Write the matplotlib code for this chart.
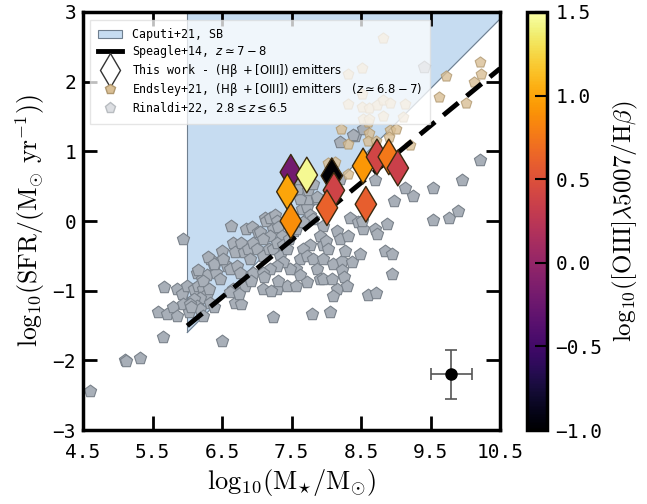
import numpy as np
import matplotlib
matplotlib.use("Agg")
import matplotlib.pyplot as plt
from matplotlib.patches import Patch
from matplotlib.lines import Line2D

# ---------------- data ----------------
rinaldi_mass = [4.60, 5.10, 5.12, 5.32, 5.67, 5.94, 5.58, 5.71, 5.80, 5.85, 5.85, 5.92, 5.94, 6.00, 6.03,
                6.50, 5.65, 6.63,
                6.14, 6.21, 6.28, 6.33, 6.38, 6.42, 6.47, 6.52, 6.50, 6.57, 6.62, 6.66, 6.69, 6.71, 6.76,
                6.78, 6.81, 6.85, 6.88, 6.90, 6.93, 6.95, 7.00, 7.02, 6.09, 6.16, 6.23, 6.28, 6.18, 6.09,
                6.14, 6.04, 6.18, 6.23, 6.33, 6.38, 6.66, 6.73, 6.69, 6.78, 6.83, 6.90, 6.95,
                6.15, 6.23, 6.30, 6.39, 6.51, 6.32, 6.06, 6.61, 6.75, 6.92,
                7.05, 7.12, 7.14, 7.19, 7.26, 7.29, 7.24, 7.19, 7.31, 7.36, 7.09, 7.09, 7.17, 7.24, 7.29,
                7.38, 7.33, 7.43, 7.47, 7.53, 7.57, 7.48, 7.65, 7.72, 7.77, 7.81, 7.67, 7.53, 7.69, 7.74,
                7.62, 7.60, 7.86, 7.96, 7.91, 7.96, 8.00, 8.03, 7.77, 7.67, 7.62, 7.72, 7.81, 7.86, 7.96,
                7.91, 7.57, 7.62, 7.48, 7.38, 7.29, 7.19, 7.09, 7.09, 7.29, 7.43, 7.57, 7.72, 7.96,
                7.23, 7.21, 7.11, 7.31,
                8.15, 8.20, 8.32, 8.10, 8.22, 8.27, 8.37, 8.49, 8.85, 8.95, 8.95, 8.22, 8.25, 8.15, 8.30,
                8.08, 8.60, 8.72, 8.10, 8.05, 7.79, 8.34, 8.46, 8.53, 8.51, 8.70, 8.73,
                9.40, 8.41, 8.53, 8.20, 8.39, 7.58, 7.74, 7.81, 7.86, 8.20, 8.70, 10.21, 9.13, 9.25,
                8.97, 9.54, 9.96, 9.54, 9.77, 9.90, 8.88]
rinaldi_sfr = [-2.44, -1.99, -2.01, -1.96, -0.95, -0.26, -1.31, -1.33, -1.23, -1.36, -0.98, -1.05, -1.19, -0.93, -1.31,
               -1.72, -1.66, -0.07,
               -0.74, -0.83, -0.78, -0.55, -0.64, -0.74, -0.83, -0.55, -0.43, -0.64, -0.69, -0.31, -0.45, -0.64, -0.74,
               -0.31, -0.45, -0.11, -0.40, -0.55, -0.09, -0.31, -0.40, -0.16, -0.98, -0.93, -0.98, -1.05, -1.10, -1.12,
               -1.22, -1.19, -1.26, -1.36, -1.17, -1.24, -0.98, -1.05, -1.17, -1.19, -0.93, -0.83, -0.74,
               -0.71, -0.86, -0.52, -0.62, -0.54, -0.98, -1.24, -1.02, -1.05, -0.86,
               -0.16, 0.05, 0.00, 0.05, 0.08, 0.00, -0.11, -0.21, -0.09, -0.21, -0.26, -0.50, -0.40, -0.40, -0.31,
               -0.35, -0.50, -0.40, -0.26, -0.14, -0.11, -0.07, 0.17, 0.20, 0.08, 0.03, -0.02, 0.00, 0.41, 0.32,
               0.32, 0.46, 0.32, -0.07, -0.21, -0.35, -0.28, -0.40, -0.35, -0.40, -0.55, -0.50, -0.55, -0.69, -0.55,
               -0.83, -0.69, -0.78, -0.69, -0.59, -0.64, -0.69, -0.74, -0.98, -0.98, -0.93, -0.93, -0.88, -0.83,
               -1.38, -1.00, -0.81, -0.86,
               -0.14, -0.26, -0.21, -0.62, -0.57, -0.43, -0.59, -0.47, -0.43, -0.47, -0.76, -0.71, -0.81, -0.98, -0.93,
               -0.83, -1.06, -1.03, -1.07, -1.31, -1.33, 0.04, -0.02, -0.11, 0.00, -0.11, -0.19,
               2.21, 1.22, 1.32, 1.13, 1.23, 0.60, 0.44, 0.53, 0.34, 0.60, 0.59, 0.87, 0.47, 0.36,
               0.29, 0.48, 0.59, 0.02, 0.04, 0.15, -0.04]

endsley_mass = [8.81, 9.72, 10.21, 10.23, 10.12, 9.62, 10.01, 9.21, 8.32, 8.12, 8.03, 8.21, 8.32, 8.60,
                8.62, 8.60, 8.72, 8.92, 9.01, 8.91, 8.32, 8.51, 8.52, 8.32, 8.52, 8.62, 8.73, 8.82,
                8.92, 9.13, 8.53, 8.62, 8.82, 9.10]
endsley_sfr = [2.63, 2.08, 2.28, 2.11, 2.00, 1.78, 1.70, 1.09, 0.67, 0.84, 0.83, 1.32, 1.11, 1.42,
               1.27, 1.15, 1.15, 1.30, 1.32, 1.20, 2.11, 2.20, 1.82, 1.68, 1.63, 1.62, 1.67, 1.73,
               1.70, 1.68, 1.47, 1.47, 1.51, 1.49]

this_mass = [7.49, 7.72, 7.44, 7.49, 8.08, 8.11, 8.01, 8.53, 8.57, 8.73, 8.90, 9.03]
this_sfr = [0.70, 0.66, 0.42, 0.00, 0.65, 0.44, 0.19, 0.79, 0.24, 0.92, 0.92, 0.76]
this_ratio = [-0.2, 1.45, 1.0, 0.88, -1.0, 0.38, 0.62, 0.93, 0.60, 0.40, 0.75, 0.35]

# typical error bar
err_mass, err_sfr = [9.8], [-2.2]
err_xerr, err_yerr = [0.3], [0.35]

# Speagle+14 main sequence (z~7-8) and Caputi+21 starburst limit
speagle_slope, speagle_intercept = 0.8205, -6.4275
speagle_range = [6.0, 10.5]
caputi_ssfr = -7.6
caputi_mmin, caputi_mmax = 6.0, 10.5

xticks = [4.5, 5.5, 6.5, 7.5, 8.5, 9.5, 10.5]
yticks = [-3, -2, -1, 0, 1, 2, 3]
cticks = [-1.0, -0.5, 0.0, 0.5, 1.0, 1.5]

# ---------------- figure ----------------
fig = plt.figure(figsize=(6.47, 5.04), dpi=100)
ax = fig.add_axes([0.1283, 0.1468, 0.6445, 0.8294])
cax = fig.add_axes([0.8145, 0.1468, 0.031, 0.8294])

mono = "DejaVu Sans Mono"

# Caputi SB region
mfill = np.linspace(caputi_mmin, caputi_mmax, 50)
ax.fill_between(mfill, mfill + caputi_ssfr, 3.0, color="#c6dcf1", zorder=1, lw=0)
ax.plot(mfill, mfill + caputi_ssfr, color="#6f7f8f", lw=0.8, zorder=1.1)
ax.plot([caputi_mmin, caputi_mmin], [caputi_mmin + caputi_ssfr, 3.0], color="#6f7f8f", lw=0.8, zorder=1.1)

# Rinaldi
ax.scatter(rinaldi_mass, rinaldi_sfr, marker="p", s=85, facecolor="#a8afb8",
           edgecolor="#7a828b", lw=0.8, zorder=2)
# Endsley
ax.scatter(endsley_mass, endsley_sfr, marker="p", s=65, facecolor="#d9bf95",
           edgecolor="#b09870", lw=0.8, alpha=0.8, zorder=2.5)

# Speagle
sx = np.array(speagle_range)
ax.plot(sx, speagle_slope * sx + speagle_intercept, color="black", lw=3.5,
        ls=(0, (4, 2.2)), zorder=3)

# This work
sc = ax.scatter(this_mass, this_sfr, c=this_ratio, cmap="inferno", vmin=-1, vmax=1.5,
                marker="d", s=330, edgecolor="#3a2a10", lw=1.0, zorder=5)

# typical error
ax.errorbar(err_mass, err_sfr, xerr=err_xerr, yerr=err_yerr, fmt="o", color="black",
            ms=8, ecolor="#555555", elinewidth=1.2, capsize=4, capthick=1.2, zorder=5)

ax.set_xlim(4.5, 10.5)
ax.set_ylim(-3, 3)
ax.set_xticks(xticks)
ax.set_xticklabels([f"{t:g}" for t in xticks], family=mono, fontsize=14)
ax.set_yticks(yticks)
ax.set_yticklabels([f"{t:d}".replace("-", "\u2212") for t in yticks], family=mono, fontsize=14)
ax.tick_params(direction="in", length=10, width=2, top=True, right=True)
ax.tick_params(axis="x", pad=9)
ax.tick_params(axis="y", pad=5)
for sp in ax.spines.values():
    sp.set_linewidth(2.5)

ax.set_xlabel(r"$\mathrm{log}_{10}(\mathrm{M}_{\star}/\mathrm{M}_{\odot})$", fontsize=19,
              math_fontfamily="cm", labelpad=4)
ax.set_ylabel(r"$\mathrm{log}_{10}(\mathrm{SFR}/(\mathrm{M}_{\odot}\ \mathrm{yr}^{-1}))$", fontsize=18.5,
              math_fontfamily="cm", labelpad=4)

# legend
handles = [
    Patch(facecolor="#c6dcf1", edgecolor="#6f7f8f", lw=0.8),
    Line2D([], [], color="black", lw=3.5),
    Line2D([], [], marker="d", ls="none", markerfacecolor="white", markeredgecolor="#333333",
           markersize=17),
    Line2D([], [], marker="p", ls="none", markerfacecolor="#d9bf95", markeredgecolor="#b09870",
           markersize=7),
    Line2D([], [], marker="p", ls="none", markerfacecolor="#dcdee2", markeredgecolor="#b8bcc0",
           markersize=8),
]
labels = [
    "Caputi+21, SB",
    r"Speagle+14, $z \simeq 7-8$",
    r"This work - $\rm (H\beta\ +[OIII])\ emitters$",
    r"Endsley+21, $\rm (H\beta\ +[OIII])\ emitters\ \ \ (\mathit{z} \simeq 6.8-7)$",
    r"Rinaldi+22, $2.8\leq z\leq 6.5$",
]
leg = ax.legend(handles, labels, loc="upper left", prop={"family": mono, "size": 8.4},
                framealpha=0.75, edgecolor="#dddddd", fancybox=False, borderpad=0.7,
                labelspacing=0.17, handlelength=2.0, handletextpad=0.9,
                borderaxespad=0, bbox_to_anchor=(0.017, 0.981))
leg.set_zorder(10)

# colorbar
cb = fig.colorbar(sc, cax=cax, ticks=cticks)
cb.ax.set_yticklabels([f"{t:.1f}".replace("-", "\u2212") for t in cticks], family=mono, fontsize=14)
cb.ax.tick_params(direction="in", length=9, width=1.5, pad=6)
cb.outline.set_linewidth(2.5)
cb.set_label(r"$\mathrm{log}_{10}([\mathrm{OIII}]\lambda5007/\mathrm{H}\beta)$", fontsize=18,
             math_fontfamily="cm", labelpad=6)

fig.savefig("out.png", dpi=100)
